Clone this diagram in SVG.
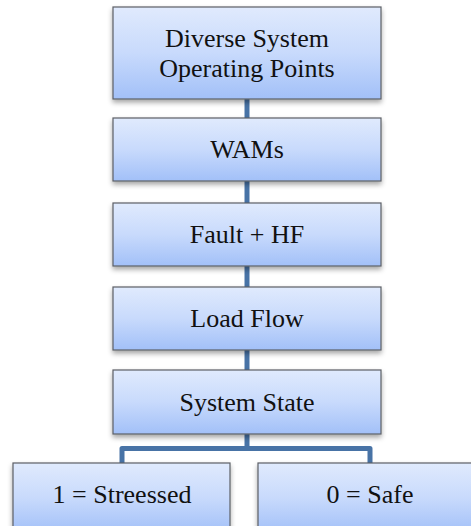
<svg xmlns="http://www.w3.org/2000/svg" width="471" height="526" viewBox="0 0 471 526">
<defs>
<linearGradient id="g" x1="0" y1="0" x2="0" y2="1">
<stop offset="0" stop-color="#e0eafd"/>
<stop offset="0.5" stop-color="#c8dafc"/>
<stop offset="1" stop-color="#a2c0f8"/>
</linearGradient>
<filter id="sh" x="-10%" y="-10%" width="120%" height="130%">
<feDropShadow dx="0" dy="3" stdDeviation="2.5" flood-color="#000" flood-opacity="0.35"/>
</filter>
</defs>
<style>
.box{fill:url(#g);stroke:#5c5f66;stroke-width:1.2;filter:url(#sh)}
.t{font-size:26px;fill:#111;text-anchor:middle}
.c{stroke:#4873a6;stroke-width:5;fill:none}
</style>
<rect width="471" height="526" fill="#fff"/>
<g id="connectors">
<line class="c" x1="247" y1="99" x2="247" y2="118"/>
<line class="c" x1="247" y1="181" x2="247" y2="203"/>
<line class="c" x1="247" y1="266" x2="247" y2="287"/>
<line class="c" x1="247" y1="350" x2="247" y2="370"/>
<path class="c" d="M247 434V448.5M122 463V448.5H370V463" stroke-linejoin="round"/>
</g>
<g font-family="Liberation Serif, Times New Roman, Times, serif">
<g id="n1"><rect class="box" x="113" y="7" width="268" height="92"/><text class="t" x="247" y="47">Diverse System</text><text class="t" x="247" y="77">Operating Points</text></g>
<g id="n2"><rect class="box" x="113" y="118" width="268" height="63"/><text class="t" x="247" y="158">WAMs</text></g>
<g id="n3"><rect class="box" x="113" y="203" width="268" height="63"/><text class="t" x="247" y="243">Fault + HF</text></g>
<g id="n4"><rect class="box" x="113" y="287" width="268" height="63"/><text class="t" x="247" y="327">Load Flow</text></g>
<g id="n5"><rect class="box" x="113" y="370" width="268" height="64"/><text class="t" x="247" y="411">System State</text></g>
<g id="n6"><rect class="box" x="13" y="463" width="217" height="70"/><text class="t" x="122" y="503">1 = Streessed</text></g>
<g id="n7"><rect class="box" x="258" y="463" width="224" height="70"/><text class="t" x="370" y="503">0 = Safe</text></g>
</g>
</svg>
